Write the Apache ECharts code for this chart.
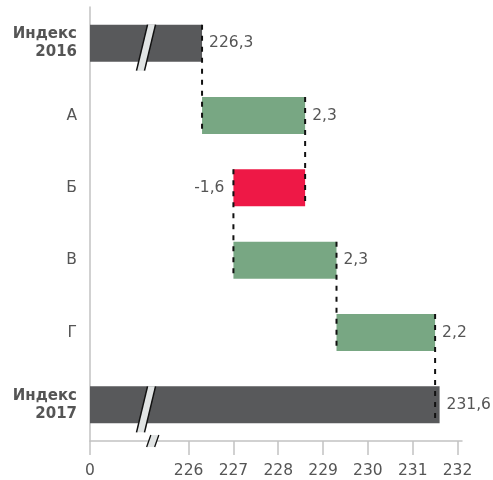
<!DOCTYPE html>
<html><head><meta charset="utf-8">
<script src="https://cdn.jsdelivr.net/npm/echarts@6/dist/echarts.min.js"></script>
<style>html,body{margin:0;padding:0;background:#fff}#c{width:493px;height:480px}</style>
</head><body><div id="c"></div><script>
// ---- data ----
const categories = ['Индекс\n2016', 'А', 'Б', 'В', 'Г', 'Индекс\n2017'];
const values = [226.3, 2.3, -1.6, 2.3, 2.2, 231.6];
const isTotal = [true, false, false, false, false, true];
const tickValues = [0, 226, 227, 228, 229, 230, 231, 232];

// ---- axis setup (broken axis: 0 shown at the start) ----
const AX_MIN = 223.8, AX_MAX = 232.1, BAR_BREAK = 225.05, AXIS_BREAK = 225.2;
const FONT = 'DejaVu Sans';
const TEXT = '#555555';
const COL_TOTAL = '#58595b', COL_UP = '#78a783', COL_DOWN = '#ee1846';
const BAR_H = 37;
const FS = 15.5;

const tickPos = tickValues.map(t => t === 0 ? AX_MIN : t);
const fmt = v => (Math.round(v * 10) / 10).toFixed(1).replace('.', ',');

let running = 0;
const segs = [];
values.forEach((v, i) => {
  if (isTotal[i]) { segs.push([i, AX_MIN, v, v, 1]); running = v; }
  else { const s = running, e = running + v; segs.push([i, s, e, v, 0]); running = e; }
});
// connectors: value where bar i meets bar i+1
const connectors = [];
for (let i = 0; i < segs.length - 1; i++) connectors.push([i, segs[i][2]]);

const chart = echarts.init(document.getElementById('c'), null, {renderer: 'canvas'});
chart.setOption({
  animation: false,
  backgroundColor: '#fff',
  grid: {left: 90, right: 31, top: 7, bottom: 39, containLabel: false},
  xAxis: {
    type: 'value', min: AX_MIN, max: AX_MAX,
    splitLine: {show: false},
    axisLine: {show: true, lineStyle: {color: '#c2c2c2', width: 1.5}},
    axisTick: {show: true, length: 14, customValues: tickPos, lineStyle: {color: '#c2c2c2', width: 1.5}},
    axisLabel: {customValues: tickPos, margin: 22, color: TEXT, fontSize: FS, fontFamily: FONT,
      formatter: v => v < 225 ? '0' : String(Math.round(v))}
  },
  yAxis: {
    type: 'category', data: categories, inverse: true,
    axisLine: {show: true, lineStyle: {color: '#c2c2c2', width: 1.5}},
    axisTick: {show: false},
    axisLabel: {
      margin: 13, fontFamily: FONT,
      formatter: v => v.indexOf('\n') >= 0 ? v.split('\n').map(s => '{b|' + s + '}').join('\n') : '{n|' + v + '}',
      rich: {
        b: {fontWeight: 'bold', fontSize: 15, color: TEXT, fontFamily: FONT, lineHeight: 18, align: 'right'},
        n: {fontSize: FS, color: TEXT, fontFamily: FONT, align: 'right'}
      }
    }
  },
  series: [
    {
      type: 'custom', encode: {x: [1, 2], y: 0}, data: segs, z: 2,
      renderItem: (params, api) => {
        const i = api.value(0), s = api.value(1), e = api.value(2), v = api.value(3), tot = api.value(4);
        const lo = Math.min(s, e), hi = Math.max(s, e);
        const p0 = api.coord([lo, i]), p1 = api.coord([hi, i]);
        const col = tot ? COL_TOTAL : (v >= 0 ? COL_UP : COL_DOWN);
        const children = [{
          type: 'rect', shape: {x: p0[0], y: p0[1] - BAR_H / 2, width: p1[0] - p0[0], height: BAR_H},
          style: {fill: col}
        }];
        const neg = !tot && v < 0;
        children.push({
          type: 'text',
          style: {
            text: fmt(v), x: neg ? p0[0] - 9 : p1[0] + 7, y: p0[1],
            align: neg ? 'right' : 'left', verticalAlign: 'middle',
            fill: TEXT, fontSize: FS, fontFamily: FONT
          }
        });
        if (tot) {
          const c = api.coord([BAR_BREAK, i]);
          const yT = c[1] - BAR_H / 2, yB = c[1] + BAR_H / 2 + 9;
          const k = 0.24, gap = 8;
          const ym = (yT + yB) / 2;
          const xl = y => c[0] - gap / 2 + (ym - y) * k;
          const xr = y => c[0] + gap / 2 + (ym - y) * k;
          children.push({type: 'polygon', shape: {points: [[xl(yT), yT], [xr(yT), yT], [xr(yB), yB], [xl(yB), yB]]},
            style: {fill: '#e1e4e4'}});
          children.push({type: 'line', shape: {x1: xl(yT), y1: yT, x2: xl(yB), y2: yB}, style: {stroke: '#111', lineWidth: 1.5}});
          children.push({type: 'line', shape: {x1: xr(yT), y1: yT, x2: xr(yB), y2: yB}, style: {stroke: '#111', lineWidth: 1.5}});
        }
        return {type: 'group', children};
      }
    },
    {
      type: 'custom', encode: {x: 1, y: 0}, data: connectors, z: 3,
      renderItem: (params, api) => {
        const i = api.value(0), val = api.value(1);
        const a = api.coord([val, i]), b = api.coord([val, i + 1]);
        return {type: 'line', shape: {x1: a[0], y1: a[1] - BAR_H / 2, x2: b[0], y2: b[1] + BAR_H / 2},
          style: {stroke: '#111', lineWidth: 2, lineDash: [5, 6]}};
      }
    },
    {
      type: 'custom', encode: {x: 0}, data: [[AXIS_BREAK]], z: 5,
      renderItem: (params, api) => {
        const c = api.coord([api.value(0), 0]);
        const yAx = params.coordSys.y + params.coordSys.height;
        const yT = yAx - 6, yB = yAx + 6, k = 0.35, gap = 8, x = c[0];
        const xl = y => x - gap / 2 + (yAx - y) * k;
        const xr = y => x + gap / 2 + (yAx - y) * k;
        return {type: 'group', children: [
          {type: 'polygon', shape: {points: [[xl(yT), yT], [xr(yT), yT], [xr(yB), yB], [xl(yB), yB]]}, style: {fill: '#e1e4e4'}},
          {type: 'line', shape: {x1: xl(yT), y1: yT, x2: xl(yB), y2: yB}, style: {stroke: '#111', lineWidth: 1.3}},
          {type: 'line', shape: {x1: xr(yT), y1: yT, x2: xr(yB), y2: yB}, style: {stroke: '#111', lineWidth: 1.3}}
        ]};
      }
    }
  ]
});
</script></body></html>
